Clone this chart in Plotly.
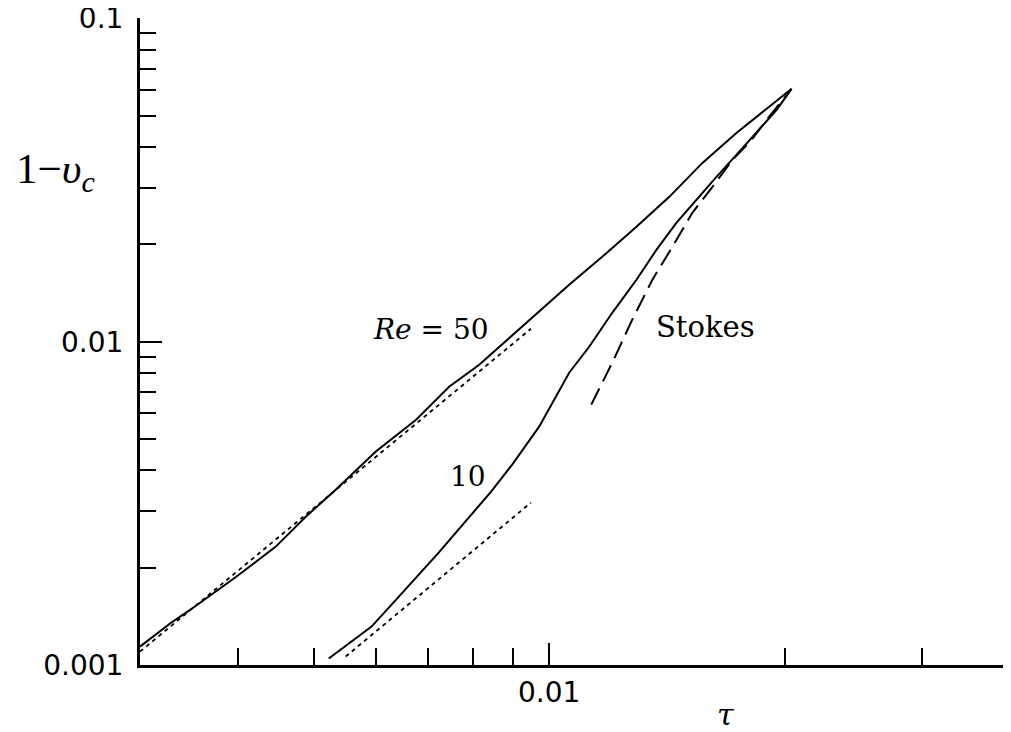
import math
import plotly.graph_objects as go

# ---- data ----
re50_tau = [0.00300, 0.00329, 0.00353, 0.00397, 0.00447, 0.00489, 0.00534, 0.00600,
            0.00676, 0.00745, 0.00814, 0.00897, 0.010607, 0.01169, 0.01293, 0.01424,
            0.0157, 0.01735, 0.01913, 0.02041]
re50_v = [0.00114, 0.001353, 0.00152, 0.001865, 0.00232, 0.00288, 0.00349, 0.00457,
          0.00574, 0.00726, 0.00849, 0.01044, 0.0150, 0.01831, 0.02267, 0.02807,
          0.03575, 0.04426, 0.05326, 0.0606]

re10_tau = [0.005228, 0.00593, 0.00646, 0.00723, 0.00843, 0.00897, 0.00971, 0.010607,
            0.01125, 0.01204, 0.01293, 0.01371, 0.01454, 0.01542, 0.01636, 0.01735,
            0.01841, 0.01953, 0.02041]
re10_v = [0.001047, 0.001315, 0.00165, 0.00223, 0.00344, 0.00417, 0.00546, 0.00802,
          0.00965, 0.01229, 0.01555, 0.01924, 0.02333, 0.02748, 0.03236, 0.03784,
          0.04426, 0.05214, 0.0606]

asym50_tau = [0.00300, 0.00948]
asym50_v = [0.00110, 0.01097]

asym10_tau = [0.005495, 0.00948]
asym10_v = [0.001062, 0.00318]

stokes_tau = [0.01132, 0.01204, 0.01277, 0.01355, 0.01437, 0.01524, 0.01617,
              0.01715, 0.01814, 0.01896, 0.02012]
stokes_v = [0.00639, 0.00861, 0.0117, 0.01555, 0.01966, 0.02505, 0.03014,
            0.03652, 0.0421, 0.04856, 0.05801]

x_major = [0.01]
x_major_text = ["0.01"]
x_minor = [0.004, 0.005, 0.006, 0.007, 0.008, 0.009, 0.02, 0.03]
y_major = [0.001, 0.01, 0.1]
y_major_text = ["0.001", "0.01", "0.1"]
y_minor = [0.002, 0.003, 0.004, 0.005, 0.006, 0.007, 0.008, 0.009,
           0.02, 0.03, 0.04, 0.05, 0.06, 0.07, 0.08, 0.09]

fig = go.Figure()
solid = dict(color="black", width=2)
dotted = dict(color="black", width=1.8, dash="4px,4px")
fig.add_trace(go.Scatter(x=re50_tau, y=re50_v, mode="lines", line=solid))
fig.add_trace(go.Scatter(x=re10_tau, y=re10_v, mode="lines", line=solid))
fig.add_trace(go.Scatter(x=asym50_tau, y=asym50_v, mode="lines", line=dotted))
fig.add_trace(go.Scatter(x=asym10_tau, y=asym10_v, mode="lines", line=dotted))
fig.add_trace(go.Scatter(x=stokes_tau, y=stokes_v, mode="lines",
                         line=dict(color="black", width=2, dash="18px,8px")))

tick_font = dict(family="DejaVu Sans", size=28, color="black")
fig.update_xaxes(type="log", range=[math.log10(0.003), -1.4136], automargin=False,
                 showline=True, linewidth=3, linecolor="black", showgrid=False, zeroline=False,
                 ticks="inside", tickvals=x_major, ticktext=x_major_text, ticklen=22, tickwidth=2,
                 tickcolor="black", tickfont=tick_font, ticklabelstandoff=0,
                 ticklabeloverflow="allow",
                 minor=dict(tickmode="array", tickvals=x_minor, ticks="inside", ticklen=17,
                            tickwidth=2, tickcolor="black", showgrid=False))
fig.update_yaxes(type="log", range=[-3, -0.9985], automargin=False,
                 showline=True, linewidth=3, linecolor="black", showgrid=False, zeroline=False,
                 ticks="inside", tickvals=y_major, ticktext=y_major_text, ticklen=22, tickwidth=2,
                 tickcolor="black", tickfont=tick_font, ticklabelstandoff=8,
                 ticklabeloverflow="allow",
                 minor=dict(tickmode="array", tickvals=y_minor, ticks="inside", ticklen=16,
                            tickwidth=2, tickcolor="black", showgrid=False))

serif = dict(family="DejaVu Serif", size=28, color="black")
fig.add_annotation(x=-2.1511, y=-1.963, xref="x", yref="y", text="<i>Re</i> = 50",
                   showarrow=False, font=serif)
fig.add_annotation(x=-2.1037, y=-2.4173, xref="x", yref="y", text="10",
                   showarrow=False, font=serif)
fig.add_annotation(x=-1.8003, y=-1.9536, xref="x", yref="y", text="Stokes",
                   showarrow=False, font=dict(family="DejaVu Serif", size=29, color="black"))
fig.add_annotation(x=-0.0968, y=0.762, xref="paper", yref="paper",
                   xanchor="center", yanchor="middle",
                   text="1\u2212<i>\u03c5</i><sub><i>c</i></sub>", showarrow=False,
                   font=dict(family="Liberation Serif", size=43, color="black"))
fig.add_annotation(x=0.674, y=-0.077, xref="paper", yref="paper",
                   xanchor="center", yanchor="middle",
                   text="<i>\u03c4</i>", showarrow=False,
                   font=dict(family="DejaVu Serif", size=30, color="black"))

# the page body adds an 8px offset, so the figure is sized to compensate
fig.update_layout(width=1003, height=724, showlegend=False,
                  margin=dict(l=132, r=3, t=10, b=67),
                  paper_bgcolor="white", plot_bgcolor="white")
fig.write_html("out.html")
